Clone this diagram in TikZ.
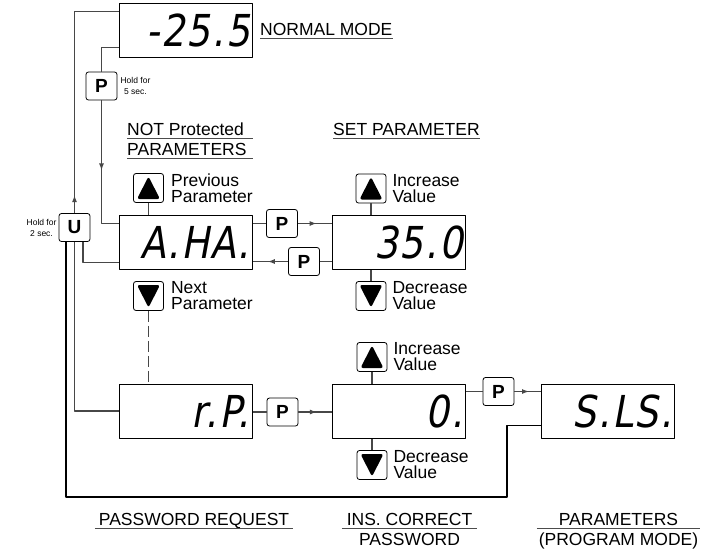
\documentclass[tikz,border=0pt]{standalone}
\usepackage{fontspec}
\setmainfont{Liberation Sans}
\newfontfamily\segfont[FakeStretch=0.85,FakeSlant=0.18,LetterSpace=4]{DejaVu Sans}
\usetikzlibrary{arrows.meta,decorations.markings,positioning}

\tikzset{
  display/.style={draw, line width=1pt, minimum width=133pt, minimum height=54pt,
    inner sep=0pt, text width=128pt, align=right,
    font=\segfont\fontsize{44}{44}\selectfont},
  keybox/.style={draw, line width=0.8pt, rounded corners=2.5pt, minimum width=31pt,
    minimum height=28pt, inner sep=0pt, font=\bfseries\fontsize{19}{19}\selectfont},
  upkey/.style={keybox, minimum width=30pt, minimum height=29pt,
    path picture={\fill ([shift={(3.5pt,3.5pt)}]path picture bounding box.south west)
      -- ([shift={(-3.5pt,3.5pt)}]path picture bounding box.south east)
      -- ([yshift=-3pt]path picture bounding box.north) -- cycle;}},
  downkey/.style={keybox, minimum width=30pt, minimum height=29pt,
    path picture={\fill ([shift={(3.5pt,-3.5pt)}]path picture bounding box.north west)
      -- ([shift={(-3.5pt,-3.5pt)}]path picture bounding box.north east)
      -- ([yshift=3pt]path picture bounding box.south) -- cycle;}},
  keytext/.style={inner sep=0pt, align=left, font=\fontsize{17.5}{16}\selectfont},
  small/.style={inner sep=0pt, align=center, font=\fontsize{8.5}{11}\selectfont},
  title/.style={inner sep=0pt, anchor=base west, font=\fontsize{17.5}{20}\selectfont},
  ulrule/.style={draw=black!70, line width=1.3pt},
  wire/.style={draw=black!72, line width=1.2pt},
  backline/.style={draw=black, line width=1.6pt},
  midarrow/.style={postaction={decorate}, decoration={markings,
    mark=at position #1 with {\arrow{Latex[length=7pt,width=5pt]}}}},
  midarrow/.default=0.5
}

\begin{document}
\begin{tikzpicture}[x=1pt, y=-1pt, line join=round]
  \useasboundingbox (0,0) rectangle (715,550);

  % displays
  \node[display] (norm) at (186,30) {-25.5};
  \node[display] (aha) at (185.5,242) {A.HA.};
  \node[display] (set) at (399,242) {35.0};
  \node[display] (rp) at (185.5,411) {r.P.};
  \node[display] (pw) at (399,411) {0.};
  \node[display] (sls) at (608,411) {S.LS.};

  % keys
  \node[keybox] (pk1) at (101.5,86) {P};
  \node[keybox] (uk) at (74.5,227.5) {U};
  \node[keybox] (pk2) at (282,223.5) {P};
  \node[keybox] (pk3) at (304,261.5) {P};
  \node[keybox] (pk4) at (282.5,412) {P};
  \node[keybox] (pk5) at (498.5,391.5) {P};
  \node[upkey] (ahaup) at (148.5,188) {};
  \node[downkey] (ahadn) at (148.5,296) {};
  \node[upkey] (setup) at (371,188.5) {};
  \node[downkey] (setdn) at (371,296) {};
  \node[upkey] (pwup) at (372,357) {};
  \node[downkey] (pwdn) at (372,465) {};

  % key texts
  \node[keytext, right=7pt of ahaup] (prevtxt) {Previous\\Parameter};
  \node[keytext, right=7pt of ahadn] (nexttxt) {Next\\Parameter};
  \node[keytext, right=6pt of setup] (inctxt) {Increase\\Value};
  \node[keytext, right=6pt of setdn] (dectxt) {Decrease\\Value};
  \node[keytext, right=6pt of pwup] (pwinctxt) {Increase\\Value};
  \node[keytext, right=6pt of pwdn] (pwdectxt) {Decrease\\Value};
  \node[small, right=3pt of pk1] (hold5) {Hold for\\5 sec.};
  \node[small, left=2pt of uk] (hold2) {Hold for\\2 sec.};

  % titles
  \node[title] (normtxt) at (260,35) {NORMAL MODE};
  \node[title] (nptxt) at (127,135) {\makebox[126pt][l]{NOT Protected}};
  \node[title] (parstxt) at (127,155) {\makebox[126pt][l]{PARAMETERS}};
  \node[title] (settxt) at (333,135) {SET PARAMETER};
  \node[title, anchor=base] (reqtxt) at (194,525) {\makebox[198pt]{PASSWORD REQUEST}};
  \node[title, anchor=base] (instxt) at (409.5,525) {\makebox[135pt]{INS. CORRECT}};
  \node[title, anchor=base] (pwtxt) at (409.5,545) {PASSWORD};
  \node[title, anchor=base] (progtxt) at (618.5,525) {\makebox[163pt]{PARAMETERS}};
  \node[title, anchor=base] (modetxt) at (618.5,545) {(PROGRAM MODE)};
  \foreach \lbl in {normtxt,nptxt,parstxt,settxt,reqtxt,instxt,progtxt}
    \draw[ulrule] ([yshift=-3.5pt]\lbl.base west) -- ([yshift=-3.5pt]\lbl.base east);

  % connectors
  \draw[wire] ([yshift=10pt]norm.south west) -| (pk1);
  \draw[wire, midarrow=0.5] (pk1) |- ([yshift=-9pt]aha.north west);
  \draw[wire] (rp.west) -| (uk);
  \draw[wire, midarrow=18pt] (uk) |- ([yshift=-9pt]norm.north west);
  \draw[wire] ([yshift=7pt]aha.south west) -| ([xshift=8.5pt]uk.south);
  \coordinate (lp) at (507,497);
  \draw[backline] ([yshift=13pt]sls.south west) -| (lp) -| ([xshift=-8.5pt]uk.south);

  \draw[wire] (aha.east |- pk2) -- (pk2);
  \draw[wire, midarrow=0.55] (pk2) -- (set.west |- pk2);
  \draw[wire] (set.west |- pk3) -- (pk3);
  \draw[wire, midarrow=0.57] (pk3) -- (aha.east |- pk3);
  \draw[wire] (rp.east |- pk4) -- (pk4);
  \draw[wire, midarrow=0.55] (pk4) -- (pw.west |- pk4);
  \draw[wire] (pw.east |- pk5) -- (pk5);
  \draw[wire, midarrow=0.55] (pk5) -- (sls.west |- pk5);

  \draw[wire] (ahaup) -- (aha.north -| ahaup);
  \draw[wire, dash pattern=on 11pt off 4pt] (ahadn) -- (rp.north -| ahadn);
  \draw[wire] (setup) -- (set.north -| setup);
  \draw[wire] (setdn) -- (set.south -| setdn);
  \draw[wire] (pwup) -- (pw.north -| pwup);
  \draw[wire] (pwdn) -- (pw.south -| pwdn);
\end{tikzpicture}
\end{document}
